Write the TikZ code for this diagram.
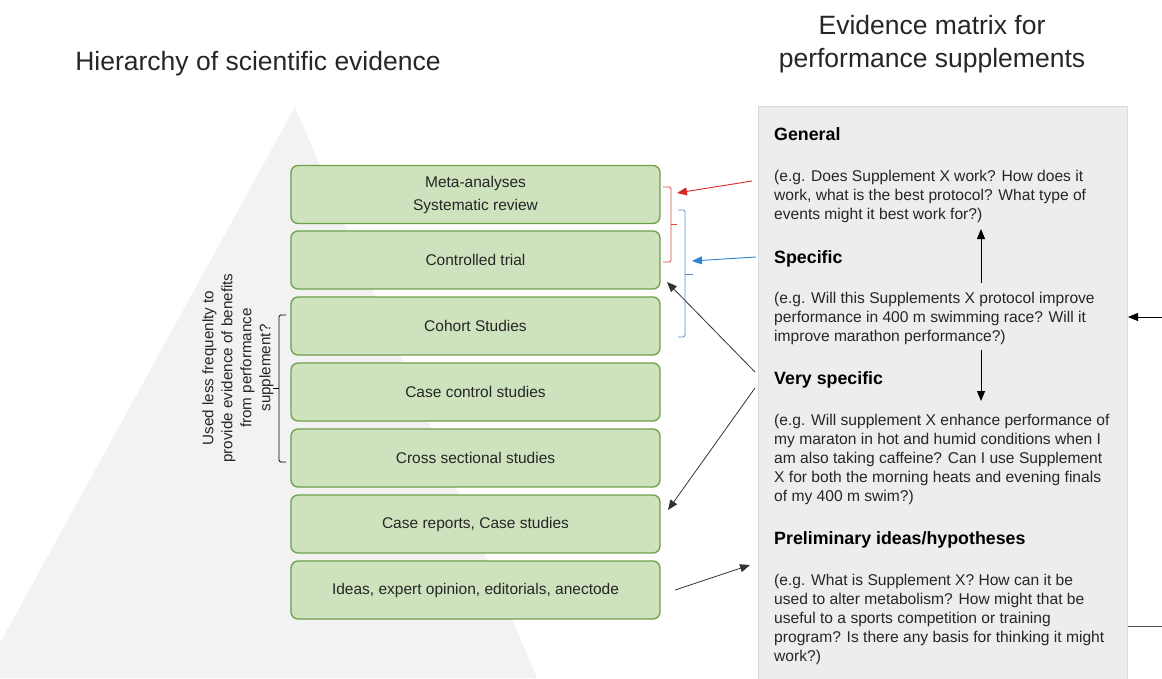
\documentclass[tikz,border=0pt]{standalone}
\usepackage{fontspec}
\setmainfont{Liberation Sans}
\usetikzlibrary{arrows.meta}

\definecolor{boxfill}{HTML}{CDE2BD}
\definecolor{boxedge}{HTML}{6E9F4A}
\definecolor{panelfill}{HTML}{EDEDED}
\definecolor{paneledge}{HTML}{D9D9D9}
\definecolor{pyrgray}{HTML}{F2F2F2}
\definecolor{bracered}{HTML}{E04646}
\definecolor{arrowred}{HTML}{D62A2A}
\definecolor{braceblue}{HTML}{5B88D2}
\definecolor{arrowblue}{HTML}{2E83CF}
\definecolor{txtgray}{HTML}{262626}

\begin{document}
\begin{tikzpicture}[x=1pt, y=-1pt, >={Triangle[length=10pt, width=8pt]},
    evbox/.style={draw=boxedge, fill=boxfill, line width=1.3pt, rounded corners=7pt,
        minimum width=369pt, minimum height=58pt, align=center, text=txtgray,
        font=\fontsize{15.5}{23}\selectfont},
    head/.style={anchor=base west, inner sep=0pt, font=\fontsize{17.8}{19}\selectfont\bfseries},
    para/.style={anchor=north west, inner sep=0pt, align=left, text=txtgray,
        font=\fontsize{15.6}{19}\selectfont},
    title/.style={align=center, text=txtgray, font=\fontsize{26.5}{33}\selectfont},
    brace/.style={line width=0.9pt, rounded corners=1.5pt}]
    \useasboundingbox (0,0) rectangle (1162,678);

    % Pyramid behind the boxes
    \fill[pyrgray] (295,107) -- (537,678) -- (0,678) -- (0,643) -- cycle;

    % Titles
    \node[title] (hiertitle) at (258,64) {Hierarchy of scientific evidence};
    \node[title] (matrixtitle) at (932,44) {Evidence matrix for\\performance supplements};

    % Levels of evidence
    \node[evbox] (meta) at (475.5,194.5) {Meta-analyses\\Systematic review};
    \node[evbox] (controlled) at (475.5,260) {Controlled trial};
    \node[evbox] (cohort) at (475.5,326) {Cohort Studies};
    \node[evbox] (casecontrol) at (475.5,392) {Case control studies};
    \node[evbox] (crosssec) at (475.5,458) {Cross sectional studies};
    \node[evbox] (casereports) at (475.5,524) {Case reports, Case studies};
    \node[evbox] (ideas) at (475.5,590) {Ideas, expert opinion, editorials, anectode};

    % Side note and its bracket
    \node[rotate=90, align=center, text=txtgray, font=\fontsize{15.2}{19}\selectfont] (lessused) at (238,368)
        {Used less frequenlty to\\provide evidence of benefits\\from performance\\supplement?};
    \draw[brace] (286,315) -- (279,315) -- (279,462) -- (286,462);
    \draw[line width=0.9pt] (279,388) -- (273,388);

    % Red and blue brackets
    \draw[brace, bracered] (663,187) -- (671,187) -- (671,262) -- (663,262);
    \draw[line width=0.9pt, bracered] (671,224) -- (677,224);
    \draw[brace, braceblue] (678,210) -- (685,210) -- (685,337) -- (678,337);
    \draw[line width=0.9pt, braceblue] (685,274) -- (693,274);

    % Evidence matrix panel
    \fill[panelfill] (758,106) rectangle (1127,690);
    \draw[paneledge] (758,690) -- (758,106) -- (1127,106) -- (1127,690);

    \node[head] (general) at (774,140) {General};
    \node[para] (generaltxt) at (774,170) {(e.g. Does Supplement X work? How does it\\work, what is the best protocol? What type of\\events might it best work for?)};
    \node[head] (specific) at (774,263) {Specific};
    \node[para] (specifictxt) at (774,292) {(e.g. Will this Supplements X protocol improve\\performance in 400 m swimming race? Will it\\improve marathon performance?)};
    \node[head] (veryspec) at (774,384.5) {Very specific};
    \node[para] (veryspectxt) at (774,414) {(e.g. Will supplement X enhance performance of\\my maraton in hot and humid conditions when I\\am also taking caffeine? Can I use Supplement\\X for both the morning heats and evening finals\\of my 400 m swim?)};
    \node[head] (prelim) at (774,544.5) {Preliminary ideas/hypotheses};
    \node[para] (prelimtxt) at (774,574) {(e.g. What is Supplement X? How can it be\\used to alter metabolism? How might that be\\useful to a sports competition or training\\program? Is there any basis for thinking it might\\work?)};

    % Arrows inside the panel
    \coordinate (upfrom) at (981,283);
    \coordinate (upto) at (981,229);
    \coordinate (downfrom) at (981,350);
    \coordinate (downto) at (981,401);
    \draw[->, line width=0.9pt] (upfrom) -- (upto);
    \draw[->, line width=0.9pt] (downfrom) -- (downto);

    % Arrows from the matrix to the hierarchy
    \coordinate (redtail) at (752,181);
    \coordinate (redtip) at (677,193);
    \coordinate (bluetail) at (756,257);
    \coordinate (bluetip) at (692,261);
    \coordinate (vstail) at (755,372);
    \coordinate (vstip) at (667,282);
    \coordinate (vstailb) at (755,388);
    \coordinate (vstipb) at (668,510);
    \coordinate (ideastail) at (675,590);
    \coordinate (ideastip) at (750,565);
    \draw[->, line width=0.9pt, arrowred] (redtail) -- (redtip);
    \draw[->, line width=0.9pt, arrowblue] (bluetail) -- (bluetip);
    \draw[->, line width=0.8pt, black!80] (vstail) -- (vstip);
    \draw[->, line width=0.8pt, black!80] (vstailb) -- (vstipb);
    \draw[->, line width=0.8pt, black!80] (ideastail) -- (ideastip);

    % Arrows at the right edge
    \coordinate (edgein) at (1162,317);
    \coordinate (edgetip) at (1128,317);
    \coordinate (edgeline) at (1128,626);
    \coordinate (edgeend) at (1162,626);
    \draw[->, line width=0.9pt] (edgein) -- (edgetip);
    \draw[line width=0.9pt, black!70] (edgeline) -- (edgeend);
\end{tikzpicture}
\end{document}
